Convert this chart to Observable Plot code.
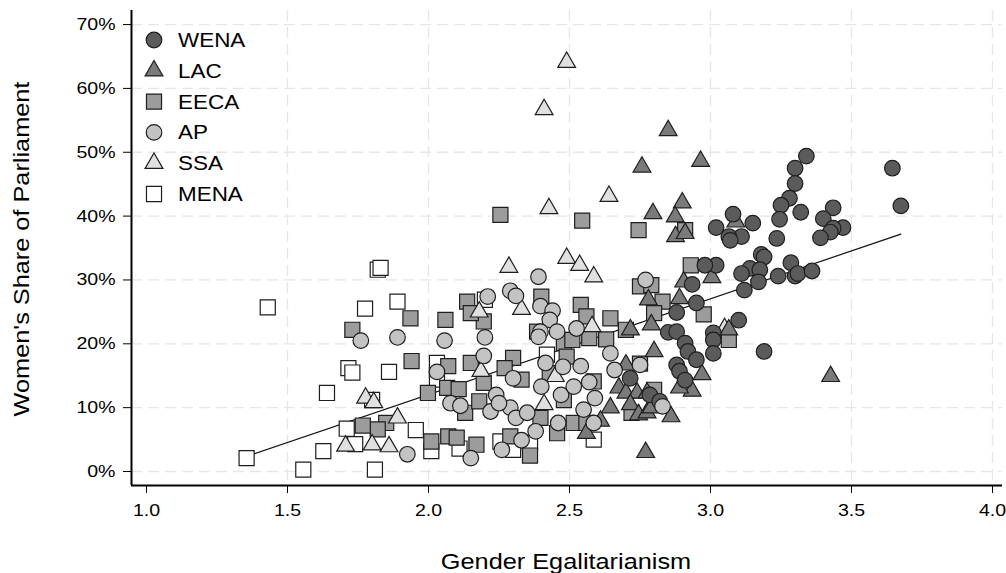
<!DOCTYPE html>
<html>
<head>
<meta charset="utf-8">
<script src="https://cdn.jsdelivr.net/npm/d3@7"></script>
<script src="https://cdn.jsdelivr.net/npm/@observablehq/plot@0.6"></script>
<style>
  html, body { margin: 0; padding: 0; background: #fff; }
  #chart { width: 1006px; height: 573px; }
</style>
</head>
<body>
<div id="chart"></div>
<script>
// ---------- data: [gender egalitarianism, women's share of parliament (%)] ----------
const wena = [
  [3.34,49.4],[3.30,47.5],[3.30,45.1],[3.28,42.8],[3.25,41.7],[3.245,39.5],[3.32,40.6],[3.235,36.5],
  [3.435,41.3],[3.40,39.6],[3.47,38.2],[3.435,38.1],[3.425,37.5],[3.39,36.6],[3.645,47.5],[3.675,41.6],
  [3.08,40.3],[3.02,38.2],[3.15,38.9],[3.11,36.8],[3.065,36.8],[3.07,36.2],[3.18,34.0],[3.19,33.6],
  [3.14,31.8],[3.11,31.0],[3.175,31.6],[3.17,29.7],[3.12,28.4],[3.24,30.6],[3.285,32.7],[3.30,30.6],
  [3.31,31.0],[3.36,31.4],[3.02,32.3],[2.98,32.3],[2.935,29.3],[2.95,26.4],[2.88,24.9],[3.10,23.7],
  [3.01,21.7],[3.01,20.6],[3.19,18.8],[3.01,18.5],[2.85,21.8],[2.88,21.9],[2.91,20.1],[2.92,18.8],
  [2.95,17.5],[2.88,16.7],[2.89,15.7],[2.91,14.3],[2.715,14.6],[2.785,12.0],[2.82,11.0]
];
const lac = [
  [2.85,53.4],[2.757,47.7],[2.965,48.6],[2.796,40.4],[2.90,42.1],[2.875,39.9],[2.876,36.8],[2.91,37.3],
  [3.09,39.1],[3.005,30.4],[2.905,29.7],[2.78,26.9],[2.89,27.1],[2.79,23.0],[2.716,22.2],[3.065,22.2],
  [2.97,15.2],[2.935,12.6],[2.89,13.1],[2.80,18.8],[2.70,16.7],[2.675,13.1],[2.70,12.3],[2.74,12.3],
  [2.775,12.3],[2.86,8.6],[2.716,10.5],[2.745,8.9],[2.775,9.2],[2.79,10.0],[2.645,10.0],[2.77,3.0],
  [3.426,14.9],[2.56,6.0],[2.61,7.9]
];
const eeca = [
  [2.255,40.2],[2.545,39.3],[2.745,37.8],[2.91,37.8],[2.93,32.3],[2.75,29.0],[2.79,29.2],[2.83,26.6],
  [2.80,24.8],[2.976,24.6],[2.70,22.2],[2.645,24.0],[3.065,20.6],[2.75,16.9],[2.80,12.8],[2.72,9.2],
  [2.40,27.4],[2.385,21.9],[2.48,20.1],[2.54,26.1],[2.56,24.3],[2.63,20.7],[2.57,20.9],[2.30,17.8],
  [2.27,16.2],[2.33,14.4],[2.43,15.4],[2.49,18.0],[2.48,11.2],[2.586,14.1],[2.397,8.4],[2.515,7.6],
  [2.456,6.0],[2.56,7.6],[2.29,5.5],[2.36,2.5],[2.51,20.6],
  [1.73,22.2],[1.936,24.0],[2.06,23.75],[2.137,26.6],[2.196,23.5],[2.15,24.8],[1.94,17.3],[2.07,16.5],
  [2.15,17.0],[1.998,12.3],[2.066,13.1],[2.107,12.9],[2.13,9.2],[2.18,11.0],[2.196,13.9],[1.85,7.6],
  [1.82,6.6],[1.767,7.2],[2.01,4.7],[2.07,5.5],[2.10,5.3],[2.17,4.2]
];
const ap = [
  [2.39,30.5],[2.29,28.3],[2.31,27.5],[2.397,25.9],[2.44,25.2],[2.43,23.75],[2.397,21.9],[2.39,21.1],
  [2.456,21.9],[2.525,22.4],[2.645,18.5],[2.66,15.9],[2.30,14.6],[2.415,17.0],[2.477,16.4],[2.54,16.5],
  [2.40,13.3],[2.47,12.0],[2.515,13.3],[2.57,14.0],[2.59,11.5],[2.55,9.7],[2.24,12.0],[2.29,10.0],
  [2.31,8.4],[2.35,9.2],[2.46,7.6],[2.586,7.6],[2.38,6.3],[2.33,4.9],[2.26,3.4],[2.77,30.0],
  [2.75,16.7],[2.83,10.2],
  [1.76,20.5],[1.89,21.0],[2.057,20.5],[2.21,27.4],[2.20,21.0],[2.03,15.6],[2.196,18.1],[2.078,10.7],
  [2.113,10.3],[2.22,9.4],[1.925,2.7],[2.15,2.1],[2.25,10.7]
];
const ssa = [
  [2.49,64.1],[2.41,56.7],[2.64,43.1],[2.427,41.2],[2.49,33.4],[2.536,32.3],[2.586,30.5],[2.285,32.0],
  [2.33,25.4],[2.18,25.0],[2.58,22.7],[2.45,14.9],[2.41,10.5],[2.186,15.7],[1.777,11.5],[1.806,10.8],
  [1.89,8.4],[1.706,4.0],[1.80,4.2],[1.86,3.9],[3.05,22.4]
];
const mena = [
  [1.82,31.6],[1.83,31.9],[1.43,25.7],[1.775,25.5],[1.89,26.6],[1.716,16.2],[1.73,15.5],[1.86,15.6],
  [1.64,12.3],[1.80,11.2],[1.71,6.7],[1.74,4.3],[1.955,6.5],[1.355,2.1],[1.627,3.2],[1.556,0.3],
  [1.81,0.3],[2.01,3.2],[2.03,17.0],[2.03,14.4],[2.20,26.9],[2.11,3.6],[2.255,4.7],[2.30,3.4],
  [2.586,5.0],[2.42,18.3],[2.36,4.5]
];

// legend order (top to bottom)
const groupNames = ["WENA", "LAC", "EECA", "AP", "SSA", "MENA"];
// drawing order (bottom to top)
const drawOrder = ["MENA", "EECA", "SSA", "LAC", "WENA", "AP"];

// linear fit: share = fitIntercept + fitSlope * egalitarianism
const fitIntercept = -17.95;
const fitSlope = 15.0;

const xTicks = [1.0, 1.5, 2.0, 2.5, 3.0, 3.5, 4.0];
const yTicks = [0, 10, 20, 30, 40, 50, 60, 70];

// ---------- styling ----------
const seriesData = {WENA: wena, LAC: lac, EECA: eeca, AP: ap, SSA: ssa, MENA: mena};
const style = {
  WENA: {symbol: "circle",   r: 7.8, fill: "#5b5b5b"},
  LAC:  {symbol: "triangle", r: 6.6, fill: "#7a7a7a"},
  EECA: {symbol: "square",   r: 8.5, fill: "#9c9c9c"},
  AP:   {symbol: "circle",   r: 7.8, fill: "#c3c3c3"},
  SSA:  {symbol: "triangle", r: 6.6, fill: "#e0e0e0"},
  MENA: {symbol: "square",   r: 8.5, fill: "#ffffff"}
};
const strokeColor = "#1e1e1e";

const allX = Object.values(seriesData).flat().map(d => d[0]);
const [xmin, xmax] = d3.extent(allX);
const fitLine = [xmin, xmax].map(x => ({x, y: fitIntercept + fitSlope * x}));

const xDomain = [0.9468, 4.0355];
const yDomain = [-2.19, 72.2];
const gridStyle = {stroke: "#e6e6e6", strokeWidth: 1.3, strokeDasharray: "11,6"};

const marks = [
  Plot.ruleY(yTicks, gridStyle),
  Plot.ruleX(xTicks.filter(d => d > 1), gridStyle),
  Plot.line(fitLine, {x: "x", y: "y", stroke: "#111", strokeWidth: 1.2}),
  ...drawOrder.map(name => Plot.dot(seriesData[name], {
    x: d => d[0], y: d => d[1],
    symbol: style[name].symbol, r: style[name].r,
    fill: style[name].fill, fillOpacity: 1,
    stroke: strokeColor, strokeWidth: 1.2
  })),
  Plot.ruleX([xDomain[0]], {stroke: "#000", strokeWidth: 2}),
  Plot.ruleY([yDomain[0]], {stroke: "#000", strokeWidth: 2})
];

const plot = Plot.plot({
  width: 1006,
  height: 573,
  marginLeft: 131,
  marginRight: 4,
  marginTop: 10,
  marginBottom: 88,
  style: {fontFamily: "'Liberation Sans', Arial, sans-serif", fontSize: "17px", color: "#000", background: "#fff"},
  x: {domain: xDomain, ticks: xTicks, tickFormat: d3.format(".1f"), tickSize: 8, tickPadding: 10, label: null},
  y: {domain: yDomain, ticks: yTicks, tickFormat: d => d + "%", tickSize: 8, tickPadding: 8, label: null},
  marks
});

document.getElementById("chart").appendChild(plot);
const svg = d3.select(plot);

// axis titles
svg.append("text")
  .attr("transform", "translate(29,249) rotate(-90)")
  .attr("text-anchor", "middle")
  .attr("font-size", 22)
  .attr("fill", "#000")
  .text("Women's Share of Parliament");
svg.append("text")
  .attr("x", 566).attr("y", 569)
  .attr("text-anchor", "middle")
  .attr("font-size", 22)
  .attr("fill", "#000")
  .text("Gender Egalitarianism");

// legend
const lg = svg.append("g").attr("text-anchor", "start");
const symType = {triangle: d3.symbolTriangle, square: d3.symbolSquare};
groupNames.forEach((name, i) => {
  const s = style[name];
  const cy = 40 + i * 30.8;
  if (s.symbol === "circle") {
    lg.append("circle").attr("cx", 154).attr("cy", cy).attr("r", s.r)
      .attr("fill", s.fill).attr("stroke", strokeColor).attr("stroke-width", 1.2);
  } else {
    lg.append("path")
      .attr("d", d3.symbol(symType[s.symbol], s.r * s.r * Math.PI)())
      .attr("transform", `translate(154,${cy})`)
      .attr("fill", s.fill).attr("stroke", strokeColor).attr("stroke-width", 1.2);
  }
  lg.append("text").attr("x", 178).attr("y", cy).attr("dy", "0.36em")
    .attr("text-anchor", "start")
    .attr("font-size", 19.5).attr("fill", "#000").text(name);
});

// widen glyphs horizontally to match the reference's wider text
plot.querySelectorAll("text").forEach(t => {
  const len = t.getComputedTextLength();
  if (len > 0) {
    t.setAttribute("textLength", (len * 1.15).toFixed(1));
    t.setAttribute("lengthAdjust", "spacingAndGlyphs");
  }
});
</script>
</body>
</html>
